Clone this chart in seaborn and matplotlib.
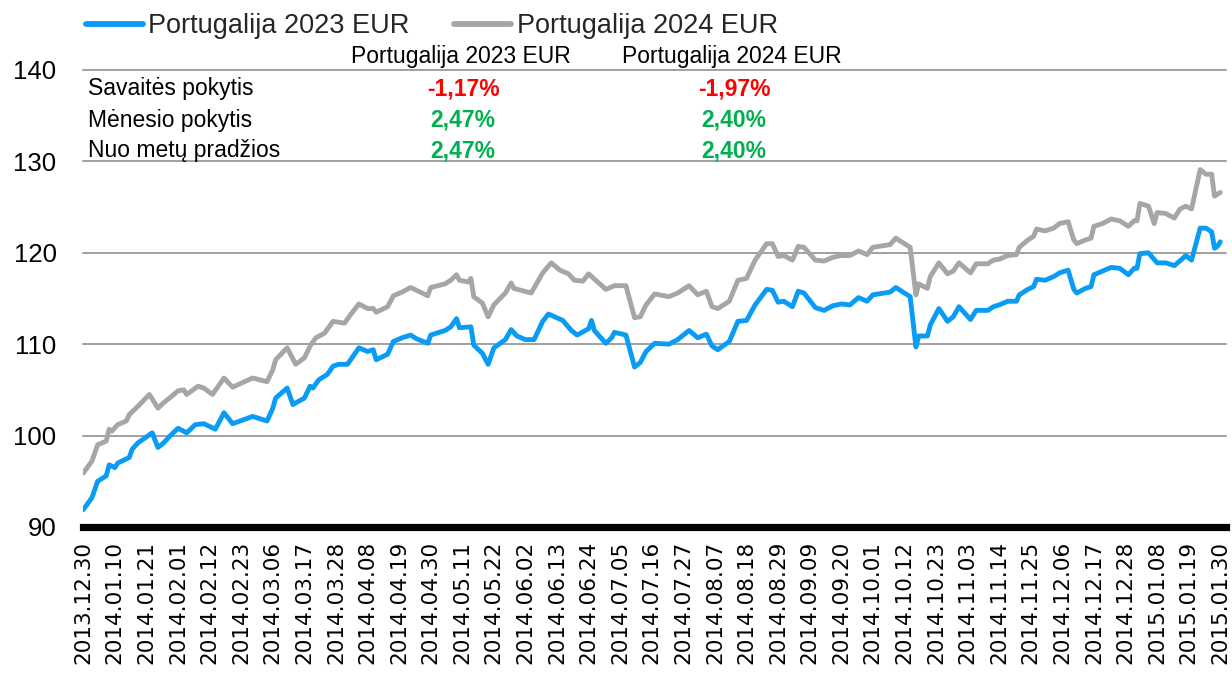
import matplotlib
matplotlib.use("Agg")
import matplotlib.pyplot as plt
from matplotlib.lines import Line2D
import numpy as np
import pandas as pd
import seaborn as sns

# ---------------- data ----------------
START_DATE = "2013-12-30"

series_names = ["Portugalija 2023 EUR", "Portugalija 2024 EUR"]

# day offsets from START_DATE and values
blue_days = [0, 3, 5, 8, 9, 11, 12, 16, 17, 19, 24, 26, 28, 30, 33, 36, 39, 42, 46, 49,
             52, 59, 64, 66, 67, 71, 73, 77, 79, 80, 82, 85, 87, 89, 92, 96, 99, 101, 102, 106,
             108, 111, 114, 116, 120, 121, 126, 128, 130, 131, 135, 136, 139, 141, 143, 147, 149, 151, 154, 157,
             160, 162, 167, 170, 172, 176, 177, 178, 182, 184, 185, 189, 192, 194, 196, 199, 204, 207, 211, 214,
             217, 219, 221, 225, 228, 231, 234, 238, 240, 242, 244, 247, 249, 251, 255, 258, 261, 264, 267, 270,
             273, 275, 281, 283, 288, 290, 291, 294, 295, 298, 301, 303, 305, 309, 311, 315, 317, 319, 322, 325,
             326, 329, 331, 332, 335, 338, 340, 343, 345, 346, 349, 351, 352, 355, 358, 361, 364, 366, 367, 368,
             371, 374, 377, 380, 383, 384, 386, 389, 391, 393, 394, 395, 396]
blue_vals = [91.9, 93.2, 95.0, 95.6, 96.8, 96.5, 97.0, 97.6, 98.5, 99.2, 100.3, 98.7, 99.2, 99.9, 100.8, 100.3, 101.2, 101.3, 100.7, 102.5,
             101.3, 102.1, 101.6, 103.0, 104.1, 105.2, 103.4, 104.1, 105.4, 105.2, 106.1, 106.7, 107.6, 107.8, 107.8, 109.6, 109.2, 109.4, 108.3, 108.9,
             110.3, 110.7, 111.0, 110.6, 110.1, 111.0, 111.5, 111.9, 112.8, 111.8, 111.9, 109.9, 109.0, 107.8, 109.6, 110.5, 111.6, 110.9, 110.5, 110.5,
             112.5, 113.3, 112.6, 111.5, 111.0, 111.7, 112.6, 111.5, 110.1, 110.7, 111.3, 111.0, 107.5, 108.0, 109.2, 110.1, 110.0, 110.5, 111.5, 110.7,
             111.1, 109.8, 109.4, 110.3, 112.5, 112.6, 114.3, 116.0, 115.9, 114.6, 114.7, 114.1, 115.8, 115.6, 114.0, 113.7, 114.2, 114.4, 114.3, 115.1,
             114.7, 115.4, 115.7, 116.2, 115.2, 109.7, 110.9, 110.9, 112.1, 113.9, 112.5, 113.0, 114.1, 112.7, 113.7, 113.7, 114.1, 114.3, 114.7, 114.7,
             115.4, 116.0, 116.3, 117.1, 117.0, 117.4, 117.8, 118.1, 116.0, 115.6, 116.1, 116.3, 117.6, 118.0, 118.4, 118.3, 117.6, 118.3, 118.3, 119.9,
             120.0, 118.9, 118.9, 118.6, 119.4, 119.7, 119.2, 122.7, 122.7, 122.3, 120.5, 120.7, 121.2]

gray_days = [0, 3, 5, 8, 9, 10, 12, 15, 16, 19, 23, 26, 28, 30, 33, 35, 36, 40, 42, 45,
             49, 52, 59, 64, 66, 67, 71, 74, 77, 79, 81, 84, 87, 91, 93, 96, 99, 101, 102, 106,
             108, 111, 114, 120, 121, 126, 128, 130, 131, 134, 135, 136, 139, 141, 143, 147, 149, 150, 156, 160,
             163, 166, 169, 171, 174, 176, 182, 185, 189, 192, 194, 196, 199, 204, 207, 211, 214, 217, 219, 221,
             225, 228, 231, 234, 238, 240, 242, 244, 247, 249, 251, 255, 258, 261, 264, 267, 270, 273, 275, 281,
             283, 288, 290, 291, 294, 295, 298, 301, 303, 305, 309, 311, 315, 317, 319, 322, 325, 326, 329, 331,
             332, 335, 338, 340, 343, 345, 346, 349, 351, 352, 355, 358, 361, 364, 366, 367, 368, 371, 373, 374,
             377, 380, 382, 384, 386, 389, 391, 393, 394, 395, 396]
gray_vals = [95.9, 97.2, 99.0, 99.4, 100.7, 100.5, 101.2, 101.6, 102.3, 103.2, 104.5, 103.0, 103.6, 104.1, 104.9, 105.0, 104.5, 105.4, 105.2, 104.5,
             106.3, 105.3, 106.3, 105.9, 107.2, 108.3, 109.6, 107.8, 108.5, 109.8, 110.7, 111.2, 112.5, 112.3, 113.2, 114.4, 113.9, 113.9, 113.5, 114.1,
             115.3, 115.7, 116.2, 115.3, 116.2, 116.6, 117.0, 117.6, 117.0, 116.8, 117.2, 115.2, 114.5, 113.0, 114.3, 115.6, 116.7, 116.1, 115.6, 117.8,
             118.9, 118.1, 117.7, 117.0, 116.9, 117.7, 116.0, 116.4, 116.4, 112.9, 113.0, 114.3, 115.5, 115.2, 115.6, 116.4, 115.4, 115.8, 114.1, 113.9,
             114.7, 117.0, 117.2, 119.2, 121.0, 121.0, 119.6, 119.7, 119.2, 120.7, 120.6, 119.2, 119.1, 119.5, 119.7, 119.7, 120.2, 119.8, 120.6, 120.9,
             121.6, 120.6, 115.4, 116.6, 116.1, 117.4, 118.9, 117.7, 118.0, 118.9, 117.8, 118.8, 118.8, 119.2, 119.3, 119.7, 119.8, 120.6, 121.4, 121.8,
             122.6, 122.4, 122.7, 123.2, 123.4, 121.4, 121.0, 121.4, 121.6, 122.9, 123.2, 123.7, 123.5, 122.9, 123.5, 123.5, 125.4, 125.1, 123.2, 124.4,
             124.3, 123.8, 124.8, 125.1, 124.8, 129.1, 128.6, 128.6, 126.2, 126.4, 126.6]

tick_labels = ["2013.12.30", "2014.01.10", "2014.01.21", "2014.02.01", "2014.02.12", "2014.02.23",
               "2014.03.06", "2014.03.17", "2014.03.28", "2014.04.08", "2014.04.19", "2014.04.30",
               "2014.05.11", "2014.05.22", "2014.06.02", "2014.06.13", "2014.06.24", "2014.07.05",
               "2014.07.16", "2014.07.27", "2014.08.07", "2014.08.18", "2014.08.29", "2014.09.09",
               "2014.09.20", "2014.10.01", "2014.10.12", "2014.10.23", "2014.11.03", "2014.11.14",
               "2014.11.25", "2014.12.06", "2014.12.17", "2014.12.28", "2015.01.08", "2015.01.19",
               "2015.01.30"]

y_ticks = [90, 100, 110, 120, 130, 140]

table_header = ["Portugalija 2023 EUR", "Portugalija 2024 EUR"]
table_rows = ["Savaitės pokytis", "Mėnesio pokytis", "Nuo metų pradžios"]
table_2023 = ["-1,17%", "2,47%", "2,47%"]
table_2024 = ["-1,97%", "2,40%", "2,40%"]

# ---------------- styling ----------------
BLUE = "#0A9CF5"
GRAY = "#A6A6A6"
RED = "#FF0000"
GREEN = "#00B050"

sns.set_theme(style="white")
plt.rcParams["font.family"] = ["Liberation Sans", "DejaVu Sans"]

W, H = 1232, 682
fig = plt.figure(figsize=(W / 100, H / 100), dpi=100)
ax_left, ax_right = 83 / W, 1226 / W
ax_bottom, ax_top = 1 - 527 / H, 1 - 70 / H
ax = fig.add_axes([ax_left, ax_bottom, ax_right - ax_left, ax_top - ax_bottom])

start = pd.Timestamp(START_DATE)
df = pd.concat([
    pd.DataFrame({"date": start + pd.to_timedelta(blue_days, unit="D"),
                  "value": blue_vals, "series": series_names[0]}),
    pd.DataFrame({"date": start + pd.to_timedelta(gray_days, unit="D"),
                  "value": gray_vals, "series": series_names[1]}),
], ignore_index=True)

palette = {series_names[0]: BLUE, series_names[1]: GRAY}
sns.lineplot(data=df, x="date", y="value", hue="series", hue_order=series_names[::-1],
             palette=palette, linewidth=3.5, errorbar=None, legend=False, ax=ax,
             solid_joinstyle="round", solid_capstyle="round")

tick_dates = [pd.Timestamp(t.replace(".", "-")) for t in tick_labels]
ax.set_xlim(tick_dates[0] - pd.Timedelta(days=0.1), tick_dates[-1] + pd.Timedelta(days=2))
ax.set_ylim(y_ticks[0], y_ticks[-1])
ax.set_xticks(tick_dates)
ax.set_xticklabels(tick_labels, rotation=90, fontsize=15.5, family=["DejaVu Sans"], color="black")
ax.set_yticks(y_ticks)
ax.set_yticklabels([str(v) for v in y_ticks], fontsize=18.5, color="black")
ax.tick_params(axis="x", length=0, pad=10)
ax.tick_params(axis="y", length=0, pad=19)
ax.set_xlabel("")
ax.set_ylabel("")

for s in ["top", "right", "left"]:
    ax.spines[s].set_visible(False)
ax.spines["bottom"].set_color("black")
ax.spines["bottom"].set_linewidth(5.2)
ax.spines["bottom"].set_zorder(5)

ax.yaxis.grid(True, color="#A0A0A0", linewidth=1.4)
ax.xaxis.grid(False)
ax.set_axisbelow(True)
for gl in ax.get_ygridlines():
    gl.set_clip_on(False)

# legend
handles = [Line2D([0], [0], color=BLUE, lw=4.2, solid_capstyle="round"),
           Line2D([0], [0], color=GRAY, lw=4.2, solid_capstyle="round")]
fig.legend(handles, series_names, loc="center left", bbox_to_anchor=(86 / W, 1 - 26 / H),
           ncol=2, frameon=False, fontsize=19.5, handlelength=2.1, handletextpad=0.2,
           columnspacing=1.65, borderpad=0, borderaxespad=0)

# table text
col_x = [461 / W, 732 / W]
header_y = 1 - 57 / H
row_y = [1 - 89 / H, 1 - 120 / H, 1 - 151 / H]
for cx, txt in zip(col_x, table_header):
    fig.text(cx, header_y, txt, ha="center", va="center", fontsize=16.5, color="black")
for i, lab in enumerate(table_rows):
    fig.text(88 / W, row_y[i], lab, ha="left", va="center", fontsize=16.5, color="black")
    for cx, vals in zip(col_x, [table_2023, table_2024]):
        v = vals[i]
        c = RED if v.startswith("-") else GREEN
        fig.text(cx + 2 / W, row_y[i], v, ha="center", va="center", fontsize=16.5,
                 fontweight="bold", color=c)

fig.savefig("out.png", dpi=100)
